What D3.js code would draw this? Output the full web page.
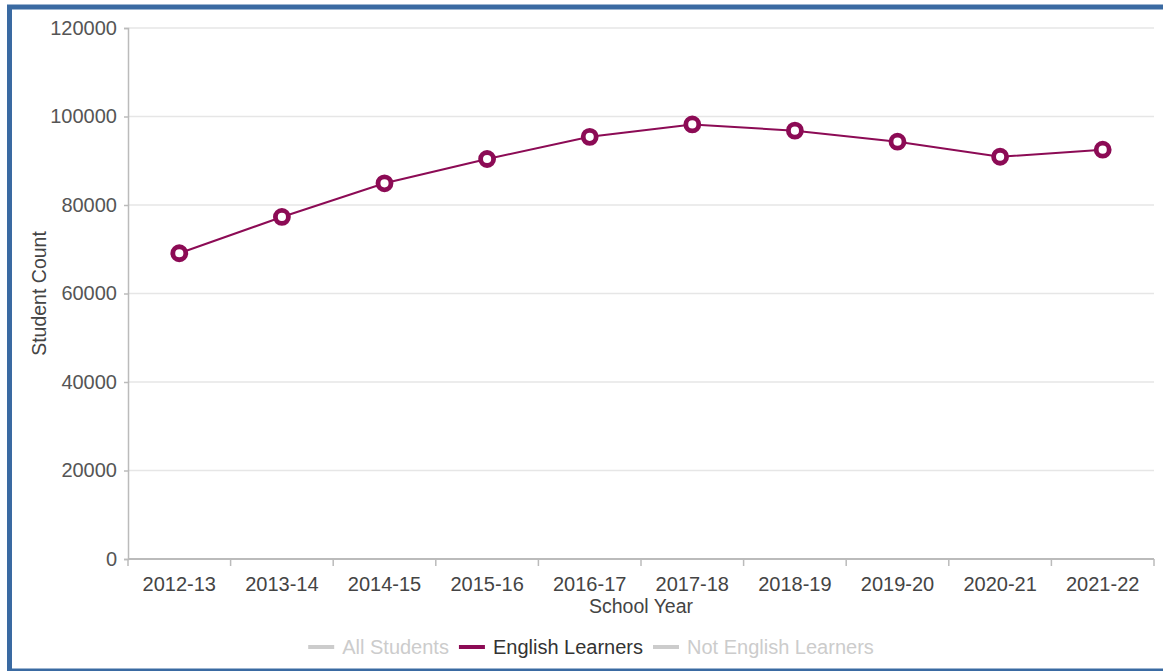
<!DOCTYPE html>
<html>
<head>
<meta charset="utf-8">
<script src="https://cdn.jsdelivr.net/npm/d3@7"></script>
<style>
  html, body { margin: 0; padding: 0; background: #fff; }
  svg { display: block; font-family: "Liberation Sans", Arial, sans-serif; }
</style>
</head>
<body>
<svg id="chart" width="1163" height="671"></svg>
<script>
const categories = ["2012-13","2013-14","2014-15","2015-16","2016-17","2017-18","2018-19","2019-20","2020-21","2021-22"];
const englishLearners = [69100, 77300, 84900, 90400, 95400, 98200, 96800, 94300, 90900, 92500];
const yTicks = [0, 20000, 40000, 60000, 80000, 100000, 120000];
const legendItems = ["All Students", "English Learners", "Not English Learners"];
const legendActive = [false, true, false];

(function () {
const svg = d3.select("#chart");
const pLeft = 128, pRight = 1154, pTop = 28, pBottom = 559;
const lineColor = "#8c0b55";

// border
svg.append("rect")
  .attr("x", 9.5).attr("y", 7).attr("width", 1170).attr("height", 664)
  .attr("fill", "none").attr("stroke", "#3a6aa2").attr("stroke-width", 5);

const x = d3.scaleBand().domain(categories).range([pLeft, pRight]).padding(0);
const y = d3.scaleLinear().domain([0, 120000]).range([pBottom, pTop]);

// gridlines
svg.append("g").selectAll("line")
  .data(yTicks.filter(d => d > 0))
  .join("line")
  .attr("x1", pLeft).attr("x2", pRight)
  .attr("y1", d => y(d)).attr("y2", d => y(d))
  .attr("stroke", "#e6e6e6").attr("stroke-width", 1.5);

// y axis
const yAxis = svg.append("g")
  .attr("transform", `translate(${pLeft},0)`)
  .call(d3.axisLeft(y).tickValues(yTicks).tickSize(4).tickPadding(7).tickFormat(d3.format("d")));
yAxis.select(".domain").attr("stroke", "#bbb").attr("stroke-width", 1.5);
yAxis.selectAll(".tick line").attr("stroke", "#bbb").attr("stroke-width", 1.5);
yAxis.selectAll(".tick text")
  .attr("fill", "#555").style("font-size", "20px").style("font-family", "Liberation Sans, Arial, sans-serif");

// x axis line
svg.append("line")
  .attr("x1", pLeft).attr("x2", pRight).attr("y1", pBottom).attr("y2", pBottom)
  .attr("stroke", "#bbb").attr("stroke-width", 2);

// x boundary ticks
const bounds = categories.map(c => x(c)).concat([x(categories[categories.length - 1]) + x.bandwidth()]);
svg.append("g").selectAll("line")
  .data(bounds)
  .join("line")
  .attr("x1", d => d).attr("x2", d => d)
  .attr("y1", pBottom).attr("y2", pBottom + 7)
  .attr("stroke", "#bbb").attr("stroke-width", 1.5);

// x labels
const xAxis = svg.append("g")
  .attr("transform", `translate(0,${pBottom})`)
  .call(d3.axisBottom(x).tickSize(0).tickPadding(18));
xAxis.select(".domain").remove();
xAxis.selectAll(".tick text")
  .attr("fill", "#444").style("font-size", "20px").style("font-family", "Liberation Sans, Arial, sans-serif");

// axis titles
svg.append("text")
  .attr("x", (pLeft + pRight) / 2).attr("y", 613)
  .attr("text-anchor", "middle").attr("fill", "#444")
  .style("font-size", "19.5px").text("School Year");
svg.append("text")
  .attr("transform", `translate(46,${(pTop + pBottom) / 2}) rotate(-90)`)
  .attr("text-anchor", "middle").attr("fill", "#444")
  .style("font-size", "19.5px").text("Student Count");

// line
const cx = d => x(d) + x.bandwidth() / 2;
svg.append("path")
  .datum(englishLearners)
  .attr("d", d3.line().x((d, i) => cx(categories[i])).y(d => y(d)))
  .attr("fill", "none").attr("stroke", lineColor).attr("stroke-width", 2);

svg.append("g").selectAll("circle")
  .data(englishLearners)
  .join("circle")
  .attr("cx", (d, i) => cx(categories[i]))
  .attr("cy", d => y(d))
  .attr("r", 6.5)
  .attr("fill", "#fff").attr("stroke", lineColor).attr("stroke-width", 4.8);

// legend
const lg = svg.append("g");
const swW = 26, gapSwText = 8, gapItems = 10;
let cursor = 0;
legendItems.forEach((name, i) => {
  const g = lg.append("g");
  g.append("line")
    .attr("x1", cursor).attr("x2", cursor + swW)
    .attr("y1", -7).attr("y2", -7)
    .attr("stroke", legendActive[i] ? lineColor : "#ccc").attr("stroke-width", 4);
  const t = g.append("text")
    .attr("x", cursor + swW + gapSwText).attr("y", 0)
    .attr("fill", legendActive[i] ? "#333" : "#ccc")
    .style("font-size", "20px").text(name);
  cursor += swW + gapSwText + t.node().getComputedTextLength() + gapItems;
});
const totalW = cursor - gapItems;
lg.attr("transform", `translate(${591 - totalW / 2},654)`);
})();
</script>
</body>
</html>
